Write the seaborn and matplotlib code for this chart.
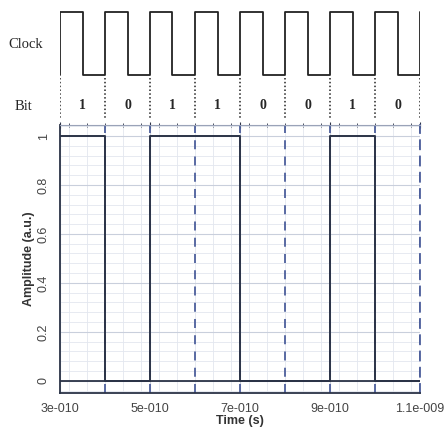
import numpy as np
import pandas as pd
import matplotlib.pyplot as plt
import matplotlib.ticker as mticker
import seaborn as sns

# Bit sequence and time axis (seconds)
bits = [1, 0, 1, 1, 0, 0, 1, 0]
bit_edges = [3e-10, 4e-10, 5e-10, 6e-10, 7e-10, 8e-10, 9e-10, 10e-10, 11e-10]
amplitude = [1, 0, 1, 1, 0, 0, 1, 0, 0]

# Clock waveform (half-period steps)
clock_times = [3e-10, 3e-10, 3.5e-10, 4e-10, 4.5e-10, 5e-10, 5.5e-10, 6e-10, 6.5e-10,
               7e-10, 7.5e-10, 8e-10, 8.5e-10, 9e-10, 9.5e-10, 10e-10, 10.5e-10, 11e-10]
clock_levels = [0, 1, 0, 1, 0, 1, 0, 1, 0, 1, 0, 1, 0, 1, 0, 1, 0, 1]

x_ticks = [3e-10, 5e-10, 7e-10, 9e-10, 11e-10]
x_ticklabels = ["3e-010", "5e-010", "7e-010", "9e-010", "1.1e-009"]
y_ticks = [0, 0.2, 0.4, 0.6, 0.8, 1]
y_ticklabels = ["0", "0.2", "0.4", "0.6", "0.8", "1"]

sig = pd.DataFrame({"t": bit_edges, "a": amplitude})
clk = pd.DataFrame({"t": clock_times, "c": clock_levels})

sns.set_style("white")
plt.rcParams["font.family"] = ["Liberation Sans", "DejaVu Sans"]

fig = plt.figure(figsize=(4.46, 4.32), dpi=100)
W, H = 446, 432
ax = fig.add_axes([60 / W, 1 - 393 / H, 360 / W, 268 / H])
top = fig.add_axes([60 / W, 1 - 120 / H, 360 / W, 120 / H], sharex=ax)

# --- clock panel ---
sns.lineplot(data=clk, x="t", y="c", ax=top, drawstyle="steps-post", estimator=None,
             color="#222222", linewidth=1.3, sort=False)
top.set_ylim(-0.714, 1.19)
top.axis("off")
for t in bit_edges:
    top.plot([t, t], [-0.05, -0.68], color="#222222", linestyle=(0, (1, 1.5)), linewidth=1.1)
for i, b in enumerate(bits):
    top.text((bit_edges[i] + bit_edges[i + 1]) / 2, -0.49, str(b), ha="center", va="center",
             fontsize=10, fontweight="bold", family="Liberation Serif")
fig.text(8 / W, 1 - 44 / H, "Clock", ha="left", va="center", fontsize=10.5, family="Liberation Serif")
fig.text(15 / W, 1 - 106 / H, "Bit", ha="left", va="center", fontsize=10.5, family="Liberation Serif")

# --- amplitude panel ---
sns.lineplot(data=sig, x="t", y="a", ax=ax, drawstyle="steps-post", estimator=None,
             color="#2b3347", linewidth=1.4)
for t in bit_edges[1:]:
    ax.axvline(t, color="#4d5f9c", linestyle=(0, (5, 4)), linewidth=1.3, zorder=1)
ax.axhline(0, color="#2b3347", linewidth=1.3)

ax.set_xlim(3e-10, 11e-10)
ax.set_ylim(-0.05, 1.045)
ax.set_xticks(x_ticks)
ax.set_xticklabels(x_ticklabels)
ax.set_yticks(y_ticks)
ax.set_yticklabels(y_ticklabels, rotation=90, va="center")
ax.xaxis.set_minor_locator(mticker.MultipleLocator(0.4e-10))
ax.yaxis.set_minor_locator(mticker.MultipleLocator(0.04))
ax.grid(which="major", color="#c9cfdc", linewidth=0.8)
ax.grid(which="minor", color="#e3e7ef", linewidth=0.6)
ax.tick_params(which="both", direction="inout", colors="#2b3347", labelcolor="#444444",
               labelsize=9, length=5, pad=5)
ax.tick_params(which="minor", length=3)
ax.tick_params(top=True, which="both")
ax.set_xlabel("Time (s)", fontweight="bold", fontsize=9, color="#333333", labelpad=0)
ax.set_ylabel("Amplitude (a.u.)", fontweight="bold", fontsize=9, color="#333333", labelpad=2)

for side in ["left", "bottom"]:
    ax.spines[side].set_color("#2b3347")
    ax.spines[side].set_linewidth(1.3)
ax.spines["right"].set_color("#4d5f9c")
ax.spines["right"].set_linestyle((0, (5, 4)))
ax.spines["right"].set_linewidth(1.3)
ax.spines["top"].set_color("#9aa3b8")
ax.spines["top"].set_linestyle((0, (1, 1)))

fig.savefig("out.png", dpi=100)
